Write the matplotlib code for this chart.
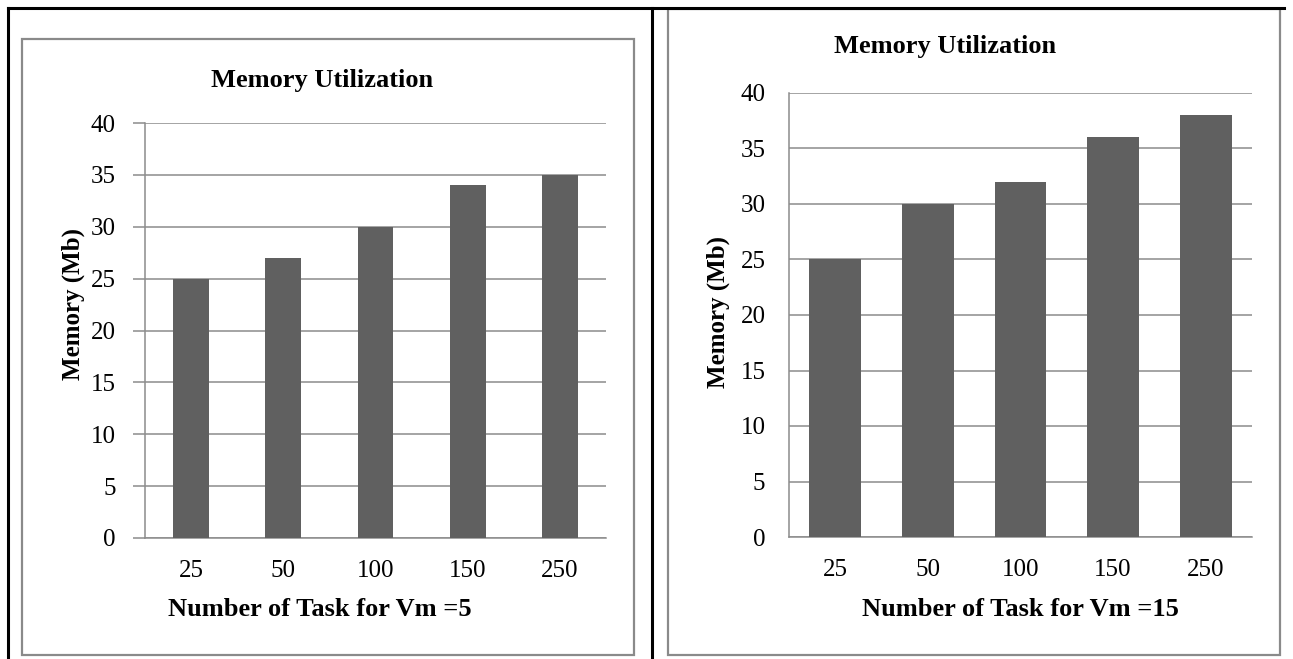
import matplotlib
matplotlib.use("Agg")
import matplotlib.pyplot as plt
from matplotlib.patches import Rectangle
from matplotlib.lines import Line2D

categories = ["25", "50", "100", "150", "250"]
left_values = [25, 27, 30, 34, 35]
right_values = [25, 30, 32, 36, 38]
y_ticks = [0, 5, 10, 15, 20, 25, 30, 35, 40]
title_text = "Memory Utilization"
ylabel_text = "Memory (Mb)"
left_xlabel = "Number of Task for Vm =5"
right_xlabel = "Number of Task for Vm =15"

plt.rcParams['font.family'] = ['Liberation Serif', 'DejaVu Serif']

W, H = 1293, 659
fig = plt.figure(figsize=(W / 100, H / 100), dpi=100)

def fx(px):
    return px / W

def fy(py):
    return 1 - py / H

BAR = "#606060"
GRID = "#8c8c8c"

# Outer black table lines
fig.add_artist(Line2D([fx(8), fx(1284)], [fy(8), fy(8)], color="black", lw=2.2))
fig.add_artist(Line2D([fx(8), fx(8)], [fy(8), fy(660)], color="black", lw=2.2))
fig.add_artist(Line2D([fx(652), fx(652)], [fy(8), fy(660)], color="black", lw=2.2))

# Gray chart frames
for (x0, y0, x1, y1) in [(22, 39, 634, 655), (668, 9, 1280, 655)]:
    fig.add_artist(Rectangle((fx(x0), fy(y1)), fx(x1) - fx(x0), fy(y0) - fy(y1),
                             fill=False, edgecolor="#8a8a8a", lw=1.6))

def make_axes(box, values, bar_width, ticks_out):
    x0, y0, x1, y1 = box
    ax = fig.add_axes([fx(x0), fy(y1), fx(x1) - fx(x0), fy(y0) - fy(y1)])
    pos = list(range(len(categories)))
    ax.bar(pos, values, width=bar_width, color=BAR, zorder=3)
    ax.set_xlim(-0.5, len(categories) - 0.5)
    ax.set_ylim(0, 40)
    ax.set_yticks(y_ticks)
    ax.set_xticks(pos)
    ax.set_xticklabels(categories)
    ax.grid(axis="y", color=GRID, lw=1.1, zorder=0)
    for s in ["top", "right"]:
        ax.spines[s].set_visible(False)
    ax.spines["left"].set_color(GRID)
    ax.spines["bottom"].set_color(GRID)
    ax.spines["left"].set_linewidth(1.1)
    ax.spines["bottom"].set_linewidth(1.1)
    ax.tick_params(axis="x", length=0, pad=16, labelsize=18)
    if ticks_out:
        ax.tick_params(axis="y", length=9, width=1.1, color=GRID, pad=12, labelsize=18)
    else:
        ax.tick_params(axis="y", length=0, pad=17, labelsize=18)
    ax.set_facecolor("none")
    return ax

make_axes((145, 123, 606, 538), left_values, 0.39, True)
make_axes((789, 93, 1252, 537), right_values, 0.56, False)

# Titles and axis labels
fig.text(fx(322), fy(80), title_text, ha="center", va="center", fontsize=19, fontweight="bold")
fig.text(fx(945), fy(46), title_text, ha="center", va="center", fontsize=19, fontweight="bold")
fig.text(fx(73), fy(304), ylabel_text, ha="center", va="center", rotation=90, fontsize=18, fontweight="bold")
fig.text(fx(718), fy(312), ylabel_text, ha="center", va="center", rotation=90, fontsize=18, fontweight="bold")
fig.text(fx(320), fy(610), left_xlabel, ha="center", va="center", fontsize=19, fontweight="bold")
fig.text(fx(1020), fy(609), right_xlabel, ha="center", va="center", fontsize=19, fontweight="bold")

fig.savefig("out.png", dpi=100)
